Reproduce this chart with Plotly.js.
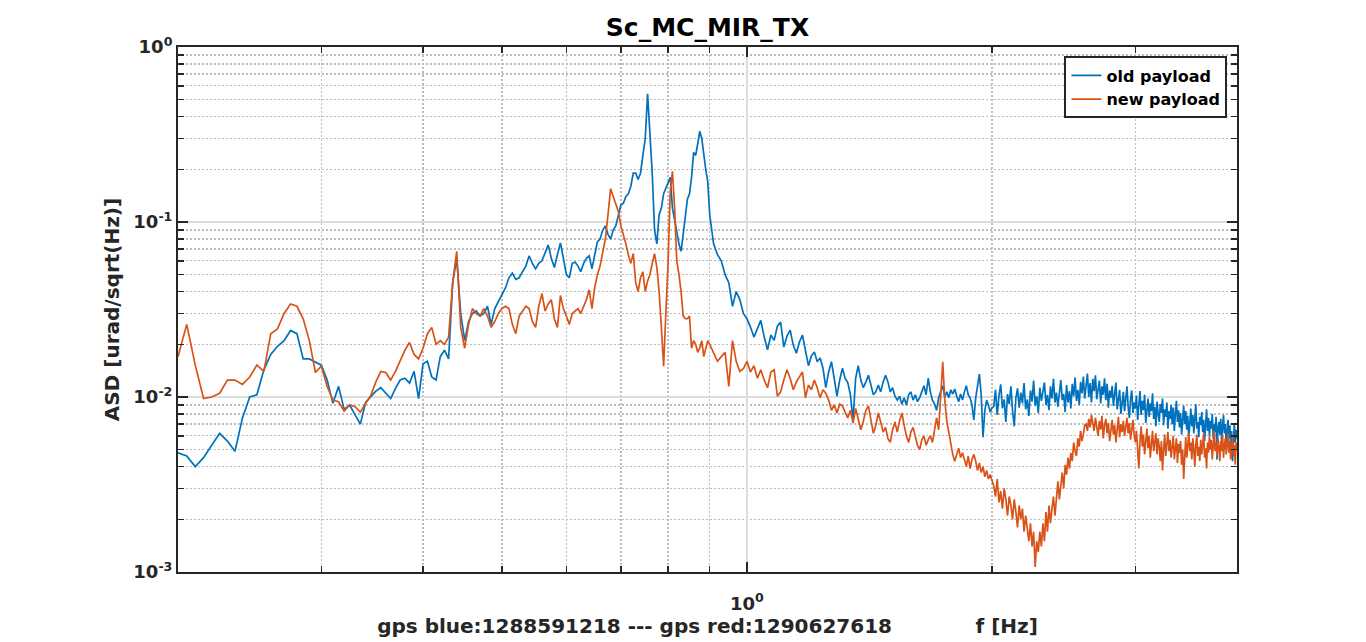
<!DOCTYPE html>
<html>
<head>
<meta charset="utf-8">
<script src="https://cdn.plot.ly/plotly-3.0.1.min.js"></script>
<style>html,body{margin:0;padding:0;background:#fff;}#chart{width:1366px;height:642px;}</style>
</head>
<body>
<div id="chart"></div>
<script>
// ---------- data ----------
const chartTitle = 'Sc_MC_MIR_TX';
const seriesNames = ['old payload', 'new payload'];
const xAxisLabel = 'gps blue:1288591218 --- gps red:1290627618\u00a0\u00a0\u00a0\u00a0\u00a0\u00a0\u00a0\u00a0\u00a0\u00a0\u00a0\u00a0f [Hz]';
const yAxisLabel = 'ASD [urad/sqrt(Hz)]';

const xTickVals = [1];
const xTickText = ['10<sup>0</sup>'];
const xMinorVals = [0.3, 0.4, 0.5, 0.6, 0.7, 0.8, 0.9, 2, 3, 4];
const yTickVals = [0.001, 0.01, 0.1, 1];
const yTickText = ['10<sup>-3</sup>', '10<sup>-2</sup>', '10<sup>-1</sup>', '10<sup>0</sup>'];
const yMinorVals = [0.002, 0.003, 0.004, 0.005, 0.006, 0.007, 0.008, 0.009,
                    0.02, 0.03, 0.04, 0.05, 0.06, 0.07, 0.08, 0.09,
                    0.2, 0.3, 0.4, 0.5, 0.6, 0.7, 0.8, 0.9];

// frequency [Hz], below 2 Hz
const freqLow = [
  0.2,0.205,0.21,0.215,0.22,0.225,0.23,0.235,0.24,0.245,0.25,0.255,0.26,0.265,0.27,0.275,0.28,0.285,0.29,0.295,
  0.3,0.305,0.31,0.315,0.32,0.325,0.33,0.335,0.34,0.345,0.35,0.355,0.36,0.365,0.37,0.375,0.38,0.385,0.39,0.395,0.4,
  0.405,0.41,0.415,0.42,0.425,0.43,0.435,0.44,0.445,0.45,0.455,0.46,0.465,0.47,0.475,0.48,0.485,0.49,0.495,0.5,
  0.505,0.51,0.515,0.52,0.525,0.53,0.535,0.54,0.545,0.55,0.555,0.56,0.565,0.57,0.575,0.58,0.585,0.59,0.595,0.6,
  0.605,0.61,0.615,0.62,0.625,0.63,0.635,0.64,0.645,0.65,0.655,0.66,0.665,0.67,0.675,0.68,0.685,0.69,0.695,0.7,
  0.705,0.71,0.715,0.72,0.725,0.73,0.735,0.74,0.745,0.75,0.755,0.76,0.765,0.77,0.775,0.78,0.785,0.79,0.795,0.8,
  0.805,0.81,0.815,0.82,0.825,0.83,0.835,0.84,0.845,0.85,0.855,0.86,0.865,0.87,0.875,0.88,0.885,0.89,0.895,
  0.9,0.91,0.92,0.93,0.94,0.95,0.96,0.97,0.98,0.99,1.0,
  1.01,1.02,1.03,1.04,1.05,1.06,1.07,1.08,1.09,1.1,1.11,1.12,1.13,1.14,1.15,1.16,1.17,1.18,1.19,1.2,
  1.21,1.22,1.23,1.24,1.25,1.26,1.27,1.28,1.29,1.3,1.31,1.32,1.33,1.34,1.35,1.36,1.37,1.38,1.39,1.4,
  1.41,1.42,1.43,1.44,1.45,1.46,1.47,1.48,1.49,1.5,1.51,1.52,1.53,1.54,1.55,1.56,1.57,1.58,1.59,1.6,
  1.61,1.62,1.63,1.64,1.65,1.66,1.67,1.68,1.69,1.7,1.71,1.72,1.73,1.74,1.75,1.76,1.77,1.78,1.79,1.8,
  1.81,1.82,1.83,1.84,1.85,1.86,1.87,1.88,1.89,1.9,1.91,1.92,1.93,1.94,1.95,1.96,1.97,1.98,1.99,2.0
];
// frequency [Hz], 2 Hz to 4 Hz
const freqHigh = [
  2.01,2.02,2.03,2.04,2.05,2.06,2.07,2.08,2.09,2.1,2.11,2.12,2.13,2.14,2.15,2.16,2.17,2.18,2.19,2.2,
  2.21,2.22,2.23,2.24,2.25,2.26,2.27,2.28,2.29,2.3,2.31,2.32,2.33,2.34,2.35,2.36,2.37,2.38,2.39,2.4,
  2.41,2.42,2.43,2.44,2.45,2.46,2.47,2.48,2.49,2.5,2.51,2.52,2.53,2.54,2.55,2.56,2.57,2.58,2.59,2.6,
  2.61,2.62,2.63,2.64,2.65,2.66,2.67,2.68,2.69,2.7,2.71,2.72,2.73,2.74,2.75,2.76,2.77,2.78,2.79,2.8,
  2.81,2.82,2.83,2.84,2.85,2.86,2.87,2.88,2.89,2.9,2.91,2.92,2.93,2.94,2.95,2.96,2.97,2.98,2.99,3.0,
  3.01,3.02,3.03,3.04,3.05,3.06,3.07,3.08,3.09,3.1,3.11,3.12,3.13,3.14,3.15,3.16,3.17,3.18,3.19,3.2,
  3.21,3.22,3.23,3.24,3.25,3.26,3.27,3.28,3.29,3.3,3.31,3.32,3.33,3.34,3.35,3.36,3.37,3.38,3.39,3.4,
  3.41,3.42,3.43,3.44,3.45,3.46,3.47,3.48,3.49,3.5,3.51,3.52,3.53,3.54,3.55,3.56,3.57,3.58,3.59,3.6,
  3.61,3.62,3.63,3.64,3.65,3.66,3.67,3.68,3.69,3.7,3.71,3.72,3.73,3.74,3.75,3.76,3.77,3.78,3.79,3.8,
  3.81,3.82,3.83,3.84,3.85,3.86,3.87,3.88,3.89,3.9,3.91,3.92,3.93,3.94,3.95,3.96,3.97,3.98,3.99,4.0
];

// ASD, old payload (blue), below 2 Hz
const oldPayloadLow = [
  0.0048,0.0046,0.0040,0.0045,0.0053,0.0062,0.0056,0.0049,0.0076,0.0100,0.0103,0.0143,0.0175,0.0195,0.0210,0.0240,0.0230,0.0165,0.0165,0.0159,
  0.0152,0.0125,0.0092,0.0115,0.0085,0.0090,0.0080,0.0070,0.0093,0.0100,0.0108,0.0113,0.0105,0.0098,0.0112,0.0125,0.0128,0.0120,0.0140,0.0098,0.0155,
  0.0160,0.0130,0.0125,0.0170,0.0185,0.0165,0.0450,0.0620,0.0300,0.0210,0.0270,0.0300,0.0310,0.0290,0.0300,0.0330,0.0260,0.0320,0.0350,0.0380,
  0.0420,0.0480,0.0510,0.0470,0.0480,0.0520,0.0560,0.0640,0.0580,0.0540,0.0580,0.0600,0.0660,0.0740,0.0620,0.0550,0.0650,0.0760,0.0620,0.0500,
  0.0480,0.0580,0.0590,0.0560,0.0520,0.0580,0.0620,0.0640,0.0540,0.0650,0.0770,0.0800,0.0900,0.0950,0.0850,0.0800,0.0900,0.0950,0.1100,0.1250,
  0.128,0.140,0.145,0.160,0.190,0.190,0.175,0.190,0.240,0.300,0.540,0.330,0.190,0.090,0.075,0.110,0.120,0.145,0.155,0.165,
  0.180,0.120,0.100,0.088,0.075,0.068,0.085,0.105,0.135,0.145,0.180,0.250,0.240,0.280,0.330,0.300,0.240,0.200,0.170,
  0.110,0.075,0.065,0.060,0.050,0.045,0.033,0.040,0.036,0.030,0.028,
  0.0251,0.0220,0.0246,0.0274,0.0220,0.0186,0.0226,0.0211,0.0254,0.0268,0.0193,0.0223,0.0241,0.0198,0.0178,0.0206,0.0226,0.0186,0.0151,0.0172,
  0.0181,0.0159,0.0167,0.0146,0.0113,0.0139,0.0159,0.0128,0.0101,0.0125,0.0146,0.0128,0.0121,0.0103,0.0074,0.0128,0.0151,0.0125,0.0113,0.0122,
  0.0133,0.0117,0.0103,0.0107,0.0117,0.0107,0.0122,0.0133,0.0122,0.0107,0.0113,0.0101,0.0096,0.0101,0.0091,0.0099,0.0090,0.0103,0.0107,0.0096,
  0.0103,0.0094,0.0099,0.0107,0.0116,0.0103,0.0128,0.0107,0.0096,0.0091,0.0084,0.0099,0.0107,0.0116,0.0100,0.0107,0.0099,0.0110,0.0104,0.0111,
  0.0101,0.0094,0.0104,0.0096,0.0107,0.0116,0.0103,0.0099,0.0090,0.0074,0.0099,0.0117,0.0135,0.0103,0.0059,0.0084,0.0096,0.0090,0.0082,0.0087
];
// ASD, old payload (blue), 2 Hz to 4 Hz
const oldPayloadHigh = [
  0.0088,0.0110,0.0079,0.0102,0.0118,0.0086,0.0097,0.0072,0.0104,0.0091,0.0115,0.0083,0.0068,0.0099,0.0112,0.0087,0.0106,0.0092,0.0120,0.0085,
  0.0097,0.0078,0.0109,0.0094,0.0124,0.0089,0.0101,0.0081,0.0113,0.0095,0.0107,0.0121,0.0090,0.0103,0.0084,0.0115,0.0098,0.0127,0.0093,0.0106,
  0.0088,0.0111,0.0125,0.0096,0.0104,0.0082,0.0117,0.0093,0.0108,0.0086,0.0119,0.0101,0.0129,0.0095,0.0110,0.0090,0.0122,0.0105,0.0131,0.0098,
  0.0114,0.0136,0.0100,0.0120,0.0093,0.0127,0.0108,0.0133,0.0097,0.0112,0.0124,0.0092,0.0115,0.0103,0.0128,0.0096,0.0119,0.0087,0.0109,0.0099,
  0.0116,0.0089,0.0105,0.0121,0.0085,0.0098,0.0110,0.0080,0.0094,0.0107,0.0083,0.0101,0.0115,0.0088,0.0076,0.0097,0.0109,0.0081,0.0093,0.0086,
  0.0102,0.0074,0.0090,0.0108,0.0079,0.0095,0.0084,0.0103,0.0071,0.0089,0.0098,0.0077,0.0092,0.0083,0.0105,0.0075,0.0088,0.0068,0.0094,0.0080,
  0.0072,0.0091,0.0081,0.0098,0.0069,0.0085,0.0077,0.0093,0.0066,0.0083,0.0075,0.0090,0.0070,0.0087,0.0064,0.0080,0.0095,0.0072,0.0084,0.0067,
  0.0081,0.0061,0.0076,0.0089,0.0070,0.0083,0.0065,0.0078,0.0058,0.0074,0.0086,0.0068,0.0079,0.0062,0.0075,0.0091,0.0066,0.0072,0.0059,0.0077,
  0.0069,0.0082,0.0063,0.0074,0.0056,0.0071,0.0085,0.0064,0.0076,0.0060,0.0073,0.0066,0.0080,0.0058,0.0070,0.0063,0.0077,0.0044,0.0067,0.0072,
  0.0061,0.0075,0.0055,0.0068,0.0079,0.0062,0.0070,0.0053,0.0066,0.0074,0.0058,0.0069,0.0052,0.0064,0.0043,0.0060,0.0071,0.0055,0.0065,0.0058
];

// ASD, new payload (orange), below 2 Hz
const newPayloadLow = [
  0.0170,0.0260,0.0152,0.0098,0.0100,0.0105,0.0125,0.0125,0.0118,0.0130,0.0152,0.0140,0.0230,0.0245,0.0300,0.0340,0.0330,0.0280,0.0210,0.0138,
  0.0150,0.0115,0.0096,0.0094,0.0083,0.0090,0.0088,0.0082,0.0092,0.0102,0.0122,0.0140,0.0138,0.0125,0.0140,0.0160,0.0185,0.0205,0.0175,0.0165,0.0190,
  0.0230,0.0250,0.0200,0.0210,0.0200,0.0220,0.0450,0.0680,0.0250,0.0190,0.0260,0.0320,0.0300,0.0290,0.0320,0.0290,0.0250,0.0270,0.0300,0.0320,
  0.0330,0.0320,0.0260,0.0230,0.0290,0.0310,0.0330,0.0320,0.0270,0.0250,0.0330,0.0390,0.0310,0.0340,0.0360,0.0280,0.0250,0.0380,0.0320,0.0290,
  0.0260,0.0300,0.0310,0.0320,0.0300,0.0330,0.0360,0.0410,0.0320,0.0420,0.0500,0.0560,0.0680,0.0800,0.1100,0.1550,0.1400,0.1250,0.1150,0.0950,
  0.085,0.075,0.065,0.058,0.066,0.045,0.040,0.048,0.052,0.040,0.046,0.050,0.058,0.066,0.055,0.040,0.025,0.015,0.030,0.058,
  0.150,0.195,0.120,0.060,0.050,0.040,0.029,0.028,0.028,0.029,0.019,0.021,0.020,0.018,0.019,0.021,0.017,0.019,0.021,
  0.020,0.018,0.016,0.017,0.018,0.0115,0.021,0.016,0.014,0.0145,0.016,
  0.0139,0.0151,0.0128,0.0143,0.0125,0.0113,0.0139,0.0143,0.0101,0.0107,0.0125,0.0143,0.0128,0.0110,0.0122,0.0131,0.0139,0.0099,0.0117,0.0110,
  0.0125,0.0113,0.0099,0.0110,0.0105,0.0096,0.0084,0.0090,0.0081,0.0091,0.0089,0.0082,0.0076,0.0084,0.0071,0.0086,0.0076,0.0065,0.0073,0.0084,
  0.0089,0.0076,0.0062,0.0069,0.0081,0.0072,0.0063,0.0067,0.0058,0.0055,0.0065,0.0072,0.0063,0.0073,0.0081,0.0069,0.0060,0.0055,0.0063,0.0067,
  0.0059,0.0053,0.0050,0.0057,0.0060,0.0053,0.0057,0.0060,0.0055,0.0065,0.0076,0.0065,0.0110,0.0159,0.0096,0.0073,0.0063,0.0053,0.0047,0.0043,
  0.0047,0.0051,0.0045,0.0048,0.0044,0.0040,0.0046,0.0039,0.0044,0.0047,0.0043,0.0038,0.0042,0.0037,0.0040,0.0035,0.0038,0.0034,0.0036,0.0033
];
// ASD, new payload (orange), 2 Hz to 4 Hz
const newPayloadHigh = [
  0.0031,0.0027,0.0034,0.0025,0.0029,0.0023,0.0030,0.0026,0.0021,0.0027,0.0024,0.0020,0.0026,0.0022,0.0018,0.0024,0.0020,0.0023,0.0017,0.0021,
  0.0018,0.0015,0.0019,0.0014,0.0017,0.00107,0.0015,0.0013,0.0017,0.0014,0.0019,0.0015,0.0022,0.0017,0.0024,0.0019,0.0023,0.0027,0.0021,0.0028,
  0.0033,0.0026,0.0031,0.0037,0.0030,0.0041,0.0036,0.0045,0.0039,0.0048,0.0043,0.0055,0.0049,0.0046,0.0058,0.0052,0.0064,0.0056,0.0061,0.0069,
  0.0070,0.0064,0.0075,0.0067,0.0079,0.0071,0.0064,0.0076,0.0068,0.0060,0.0073,0.0065,0.0078,0.0058,0.0069,0.0075,0.0062,0.0071,0.0056,0.0066,
  0.0074,0.0061,0.0069,0.0055,0.0067,0.0077,0.0059,0.0070,0.0063,0.0073,0.0060,0.0068,0.0076,0.0062,0.0071,0.0057,0.0066,0.0074,0.0061,0.0055,
  0.0064,0.0048,0.0039,0.0056,0.0068,0.0052,0.0061,0.0047,0.0058,0.0066,0.0051,0.0060,0.0045,0.0057,0.0064,0.0049,0.0055,0.0062,0.0047,0.0058,
  0.0052,0.0043,0.0056,0.0038,0.0050,0.0061,0.0046,0.0055,0.0063,0.0049,0.0057,0.0045,0.0053,0.0060,0.0044,0.0051,0.0058,0.0042,0.0054,0.0048,
  0.0056,0.0041,0.0050,0.0034,0.0047,0.0059,0.0045,0.0053,0.0062,0.0049,0.0055,0.0044,0.0058,0.0050,0.0040,0.0053,0.0061,0.0046,0.0052,0.0043,
  0.0057,0.0047,0.0054,0.0062,0.0045,0.0051,0.0039,0.0055,0.0048,0.0060,0.0050,0.0057,0.0044,0.0053,0.0064,0.0049,0.0055,0.0046,0.0058,0.0051,
  0.0043,0.0056,0.0049,0.0061,0.0045,0.0053,0.0058,0.0047,0.0054,0.0062,0.0048,0.0056,0.0044,0.0052,0.0059,0.0046,0.0053,0.0041,0.0055,0.0050
];

const colors = ['#0072BD', '#D95319'];

// ---------- plot ----------
const freq = freqLow.concat(freqHigh);
const oldPayload = oldPayloadLow.concat(oldPayloadHigh);
const newPayload = newPayloadLow.concat(newPayloadHigh);

const FONT = 'DejaVu Sans, Liberation Sans, sans-serif';
const traces = [
  {x: freq, y: oldPayload, name: seriesNames[0], type: 'scatter', mode: 'lines',
   line: {color: colors[0], width: 1.7}},
  {x: freq, y: newPayload, name: seriesNames[1], type: 'scatter', mode: 'lines',
   line: {color: colors[1], width: 1.7}}
];

const axisCommon = {
  type: 'log', tickmode: 'array',
  ticks: 'inside', ticklen: 10, tickwidth: 1.5, tickcolor: '#262626',
  showline: true, linecolor: '#262626', linewidth: 2, mirror: 'ticks',
  showgrid: true, gridcolor: '#dcdcdc', gridwidth: 2, zeroline: false,
  tickfont: {family: FONT, size: 18, color: '#262626', weight: 'bold'}
};

const layout = {
  width: 1366, height: 642,
  margin: {l: 178, r: 129, t: 47, b: 70},
  paper_bgcolor: '#ffffff', plot_bgcolor: '#ffffff',
  font: {family: FONT, size: 18, color: '#262626', weight: 'bold'},
  showlegend: true,
  title: {text: chartTitle, x: 0.5, xref: 'paper', xanchor: 'center',
          y: 0.958, yref: 'container', yanchor: 'middle',
          font: {family: FONT, size: 25, color: '#000000', weight: 'bold'}},
  xaxis: Object.assign({}, axisCommon, {
    range: [Math.log10(0.2), Math.log10(4)],
    tickvals: xTickVals, ticktext: xTickText, ticklabelstandoff: 14,
    minor: {tickmode: 'array', tickvals: xMinorVals, ticks: 'inside', ticklen: 6,
            tickwidth: 1.5, tickcolor: '#262626', showgrid: true,
            gridcolor: '#bdbdbd', gridwidth: 1.3, griddash: '2px,2px'},
    title: {text: xAxisLabel, standoff: 2,
            font: {family: FONT, size: 20, color: '#262626', weight: 'bold'}}
  }),
  yaxis: Object.assign({}, axisCommon, {
    range: [-3, 0],
    tickvals: yTickVals, ticktext: yTickText,
    minor: {tickmode: 'array', tickvals: yMinorVals, ticks: 'inside', ticklen: 6,
            tickwidth: 1.5, tickcolor: '#262626', showgrid: true,
            gridcolor: '#bdbdbd', gridwidth: 1.3, griddash: '2px,2px'},
    title: {text: yAxisLabel, standoff: 8,
            font: {family: FONT, size: 20, color: '#262626', weight: 'bold'}}
  }),
  legend: {x: 0.991, xanchor: 'right', y: 0.982, yanchor: 'top',
           bgcolor: '#ffffff', bordercolor: '#262626', borderwidth: 2,
           font: {family: FONT, size: 16, color: '#000000', weight: 'bold'},
           tracegroupgap: 0, itemwidth: 30}
};

Plotly.newPlot('chart', traces, layout, {displayModeBar: false, staticPlot: true});
</script>
</body>
</html>
